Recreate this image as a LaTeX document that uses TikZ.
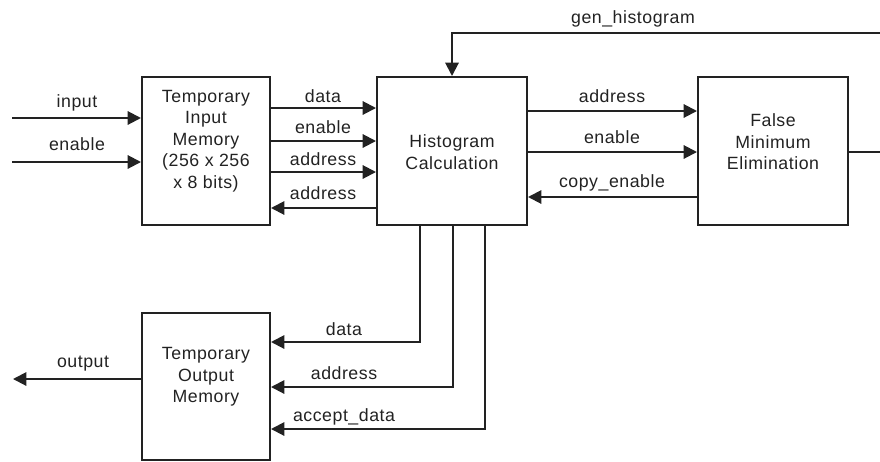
\documentclass[tikz,border=0pt]{standalone}
\usepackage{fontspec}
\setmainfont{Liberation Sans}[LetterSpace=3]
\usetikzlibrary{arrows.meta,calc}
\definecolor{ink}{HTML}{222222}
\begin{document}
\begin{tikzpicture}[x=0.75pt,y=-0.75pt,
  line width=1.5pt, draw=ink, color=ink,
  box/.style={draw=ink, line width=1.5pt, minimum width=96pt, minimum height=111pt, inner sep=0pt},
  txt/.style={align=center, font=\fontsize{13.3}{16.2}\selectfont, inner sep=0pt, text=ink},
  lbl/.style={anchor=base, font=\fontsize{13.3}{15}\selectfont, inner sep=0pt, text=ink},
  arr/.style={-{Triangle[length=10pt,width=10pt]}, line width=1.5pt, draw=ink}]
\useasboundingbox (0,0) rectangle (880,461);
\clip (0,0) rectangle (880,461);

% boxes
\node[box] (tim) at (206,151) {};
\node[txt] (timt) at (206,141) {Temporary\\Input\\Memory\\(256 x 256\\x 8 bits)};
\node[box, minimum width=112.5pt] (hc) at (452,151) {};
\node[txt] (hct) at (452,152) {Histogram\\Calculation};
\node[box, minimum width=112.5pt] (fme) at (773,151) {};
\node[txt] (fmet) at (773,142) {False\\Minimum\\Elimination};
\node[box, minimum height=110.25pt] (tom) at (206,386.5) {};
\node[txt] (tomt) at (206,377) {Temporary\\Output\\Memory};

% inputs
\coordinate (in1) at (12,118);
\coordinate (in2) at (12,162);
\draw[arr] (in1) -- (in1 -| tim.west);
\draw[arr] (in2) -- (in2 -| tim.west);
\node[lbl] (l1) at (77,107) {input};
\node[lbl] (l2) at (77,150) {enable};

% tim <-> hc
\draw[arr] (tim.east |- 0,108) -- (hc.west |- 0,108);
\draw[arr] (tim.east |- 0,141) -- (hc.west |- 0,141);
\draw[arr] (tim.east |- 0,172) -- (hc.west |- 0,172);
\draw[arr] (hc.west |- 0,208) -- (tim.east |- 0,208);
\node[lbl] (l3) at (323,102) {data};
\node[lbl] (l4) at (323,133) {enable};
\node[lbl] (l5) at (323,165) {address};
\node[lbl] (l6) at (323,199) {address};

% hc <-> fme
\draw[arr] (hc.east |- 0,111) -- (fme.west |- 0,111);
\draw[arr] (hc.east |- 0,152) -- (fme.west |- 0,152);
\draw[arr] (fme.west |- 0,197) -- (hc.east |- 0,197);
\node[lbl] (l7) at (612,102) {address};
\node[lbl] (l8) at (612,143) {enable};
\node[lbl] (l9) at (612,187) {copy\_enable};

% feedback
\coordinate (re) at (886,152);
\draw[arr] (fme.east |- re) -- (re) |- ($(hc.north)+(0,-43)$) -- (hc.north);
\node[lbl] (l10) at (633,23) {gen\_histogram};

% hc -> tom
\draw[arr] (hc.south -| 420,0) |- (tom.east |- 0,342);
\draw[arr] (hc.south -| 453,0) |- (tom.east |- 0,387);
\draw[arr] (hc.south -| 485,0) |- (tom.east |- 0,429);
\node[lbl] (l11) at (344,335) {data};
\node[lbl] (l12) at (344,379) {address};
\node[lbl] (l13) at (344,421) {accept\_data};

% output
\coordinate (out) at (13,379);
\draw[arr] (tom.west |- out) -- (out);
\node[lbl] (l14) at (83,367) {output};
\end{tikzpicture}
\end{document}
